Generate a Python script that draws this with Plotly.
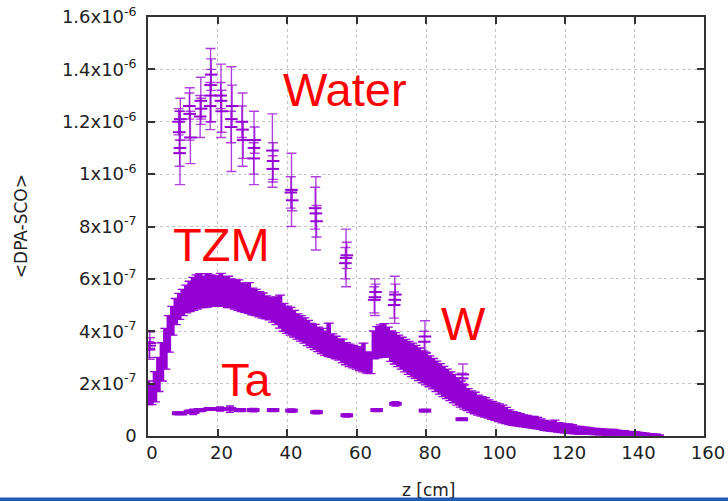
import plotly.graph_objects as go

# ---- data (values in units of 1e-7) ----
SCALE = 1e-7

# TZM target, 0-64 cm
tzm_z = list(range(0, 65))
tzm_v = [1.65, 1.60, 1.88, 2.35, 2.83, 3.33, 3.90, 4.40, 4.75, 4.95,
         5.10, 5.23, 5.33, 5.43, 5.50, 5.55, 5.50, 5.56, 5.55, 5.53,
         5.53, 5.58, 5.50, 5.50, 5.45, 5.40, 5.38, 5.30, 5.26, 5.27,
         5.14, 5.10, 5.03, 4.98, 4.91, 4.87, 4.80, 4.78, 4.75, 4.53,
         4.44, 4.38, 4.29, 4.18, 4.11, 4.03, 3.93, 3.84, 3.78, 3.69,
         3.63, 3.54, 3.67, 3.45, 3.38, 3.30, 3.25, 3.14, 3.08, 3.03,
         2.98, 2.93, 3.00, 2.80, 2.79]
tzm_e = [0.45, 0.40, 0.58, 0.65, 0.73, 0.78, 0.70, 0.55, 0.50, 0.50,
         0.50, 0.53, 0.58, 0.63, 0.65, 0.65, 0.60, 0.64, 0.60, 0.58,
         0.58, 0.63, 0.55, 0.60, 0.55, 0.55, 0.58, 0.55, 0.54, 0.59,
         0.51, 0.50, 0.48, 0.48, 0.44, 0.43, 0.45, 0.53, 0.63, 0.53,
         0.52, 0.53, 0.51, 0.48, 0.49, 0.48, 0.48, 0.46, 0.48, 0.47,
         0.48, 0.46, 0.64, 0.45, 0.43, 0.40, 0.45, 0.42, 0.43, 0.43,
         0.43, 0.43, 0.55, 0.40, 0.41]

# W target, 65-147 cm
w_z = list(range(65, 148))
w_v = [3.48, 3.58, 3.62, 3.66, 3.58, 3.43, 3.35, 3.25, 3.16, 3.07,
       2.98, 2.91, 2.83, 2.74, 2.64, 2.56, 2.47, 2.38, 2.28, 2.18,
       2.08, 1.99, 1.90, 1.81, 1.70, 1.60, 1.49, 1.39, 1.31, 1.26,
       1.18, 1.13, 1.09, 1.03, 0.98, 0.93, 0.89, 0.84, 0.78, 0.72,
       0.67, 0.64, 0.61, 0.58, 0.56, 0.53, 0.52, 0.49, 0.45, 0.41,
       0.38, 0.36, 0.39, 0.33, 0.31, 0.29, 0.28, 0.26, 0.23, 0.22,
       0.21, 0.20, 0.19, 0.17, 0.17, 0.16, 0.15, 0.14, 0.14, 0.14,
       0.12, 0.11, 0.11, 0.10, 0.09, 0.09, 0.08, 0.07, 0.06, 0.05,
       0.04, 0.03, 0.02]
w_e = [0.53, 0.60, 0.62, 0.63, 0.58, 0.58, 0.60, 0.60, 0.61, 0.62,
       0.63, 0.64, 0.63, 0.62, 0.61, 0.61, 0.59, 0.58, 0.58, 0.58,
       0.58, 0.56, 0.55, 0.54, 0.52, 0.50, 0.46, 0.42, 0.41, 0.41,
       0.38, 0.37, 0.37, 0.35, 0.34, 0.33, 0.34, 0.34, 0.31, 0.28,
       0.26, 0.25, 0.24, 0.23, 0.23, 0.22, 0.23, 0.22, 0.20, 0.19,
       0.18, 0.18, 0.22, 0.18, 0.18, 0.17, 0.18, 0.17, 0.15, 0.15,
       0.14, 0.14, 0.13, 0.12, 0.12, 0.12, 0.11, 0.11, 0.11, 0.11,
       0.10, 0.09, 0.09, 0.08, 0.08, 0.08, 0.07, 0.06, 0.05, 0.04,
       0.03, 0.03, 0.02]

# Water target
water_z = [0.3, 0.5, 0.6,
           8.8, 9.0, 9.1, 9.2, 9.3,
           11.9, 12.0, 12.2,
           15.0, 15.2, 15.3,
           17.9, 18.0, 18.1, 18.2,
           20.9, 21.0, 21.2,
           23.9, 24.0, 24.2,
           27.0, 27.2, 27.4,
           30.4, 30.5, 30.7,
           35.8, 35.9, 36.0,
           41.1, 41.3, 41.5,
           48.1, 48.3, 48.5,
           56.8, 57.0, 57.2,
           65.1, 65.3, 65.5,
           70.8, 71.0, 71.2,
           79.5, 79.7,
           90.4, 90.6]
water_v = [3.30, 3.45, 3.55,
           12.0, 11.6, 10.8, 11.0, 12.1,
           12.6, 12.3, 11.4,
           12.2, 12.8, 12.5,
           12.6, 13.4, 13.0, 13.8,
           13.0, 12.8, 12.4,
           11.8, 12.1, 12.6,
           12.0, 11.7, 11.3,
           10.6, 11.0, 11.3,
           10.9, 10.2, 10.5,
           9.3, 9.4, 9.0,
           8.7, 8.5, 8.2,
           6.6, 6.8, 6.9,
           5.2, 5.3, 5.5,
           5.0, 5.2, 5.4,
           3.6, 3.8,
           2.2, 2.35]
water_e = [0.30, 0.52, 0.20,
           0.50, 0.80, 0.50, 1.40, 0.80,
           0.50, 1.00, 1.00,
           0.80, 0.90, 0.40,
           0.90, 1.40, 1.00, 0.60,
           0.50, 1.40, 0.80,
           0.60, 2.00, 0.80,
           0.60, 1.40, 0.70,
           0.60, 1.40, 0.50,
           1.40, 0.50, 0.70,
           0.60, 1.40, 0.40,
           0.80, 1.40, 0.60,
           0.60, 1.10, 0.50,
           0.50, 0.70, 0.30,
           0.50, 0.90, 0.40,
           0.40, 0.60,
           0.20, 0.40]

# Ta target
ta_z = [8.7, 9.5, 12.1, 13.0, 15.0, 17.8, 20.7, 23.6, 26.5, 30.3,
        36.0, 41.3, 48.5, 57.2, 65.8, 71.2, 79.7, 90.3]
ta_v = [0.87, 0.86, 0.93, 0.92, 0.99, 1.03, 1.03, 1.03, 0.99, 0.99,
        0.99, 0.97, 0.91, 0.79, 0.99, 1.23, 0.97, 0.64]
ta_e = [0.04, 0.03, 0.05, 0.10, 0.05, 0.05, 0.08, 0.12, 0.05, 0.06,
        0.05, 0.06, 0.06, 0.06, 0.05, 0.08, 0.04, 0.04]

x_ticks = [0, 20, 40, 60, 80, 100, 120, 140, 160]
y_tick_vals = [0, 2e-7, 4e-7, 6e-7, 8e-7, 1e-6, 1.2e-6, 1.4e-6, 1.6e-6]
y_tick_text = ["0", "2x10<sup>-7</sup>", "4x10<sup>-7</sup>", "6x10<sup>-7</sup>",
               "8x10<sup>-7</sup>", "1x10<sup>-6</sup>", "1.2x10<sup>-6</sup>",
               "1.4x10<sup>-6</sup>", "1.6x10<sup>-6</sup>"]

labels = [("Water", 56.6, 13.25), ("TZM", 21.2, 7.3), ("W", 90.9, 4.3), ("Ta", 28.4, 2.15)]

PURPLE = "#9400D3"


def sc(vals):
    return [v * SCALE for v in vals]


fig = go.Figure()

# dense bands (TZM and W): a solid body of thick bars plus thin capped bars
for zs, vs, es in ((tzm_z, tzm_v, tzm_e), (w_z, w_v, w_e)):
    fig.add_trace(go.Scatter(
        x=zs, y=sc(vs), mode="markers",
        marker=dict(symbol="square", size=4, color=PURPLE),
        error_y=dict(type="data", array=sc(es), visible=True,
                     color=PURPLE, thickness=4.6, width=0),
        showlegend=False, hoverinfo="skip"))
    fig.add_trace(go.Scatter(
        x=zs, y=sc(vs), mode="none",
        error_y=dict(type="data", array=sc(es), visible=True,
                     color=PURPLE, thickness=1.3, width=5),
        showlegend=False, hoverinfo="skip"))

# Water clusters
fig.add_trace(go.Scatter(
    x=water_z, y=sc(water_v), mode="markers",
    marker=dict(symbol="line-ew", size=9, color=PURPLE,
                line=dict(color=PURPLE, width=2)),
    error_y=dict(type="data", array=sc(water_e), visible=True,
                 color="rgba(148,0,211,0.75)", thickness=1.4, width=5),
    showlegend=False, hoverinfo="skip"))

# Ta points
fig.add_trace(go.Scatter(
    x=ta_z, y=sc(ta_v), mode="markers",
    marker=dict(symbol="line-ew", size=9, color=PURPLE,
                line=dict(color=PURPLE, width=4)),
    error_y=dict(type="data", array=sc(ta_e), visible=True,
                 color=PURPLE, thickness=1.5, width=4),
    showlegend=False, hoverinfo="skip"))

for text, lx, ly in labels:
    fig.add_annotation(x=lx, y=ly * SCALE, xref="x", yref="y", text=text,
                       showarrow=False, xanchor="center", yanchor="middle",
                       font=dict(family="Liberation Sans", size=47, color="#FF0000"))

tick_font = dict(family="DejaVu Sans", size=18, color="#222222")
title_font = dict(family="DejaVu Sans", size=17, color="#222222")

# axis titles
fig.add_annotation(x=-0.229, y=0.5, xref="paper", yref="paper", text="&lt;DPA-SCO&gt;",
                   textangle=-90, showarrow=False, xanchor="center", yanchor="middle",
                   font=title_font)
fig.add_annotation(x=0.505, y=-0.13, xref="paper", yref="paper", text="z [cm]",
                   showarrow=False, xanchor="center", yanchor="middle",
                   font=title_font)
# bottom strip across the full page width
fig.add_annotation(x=0.3885, y=-0.1456, xref="paper", yref="paper", text="&#160;",
                   showarrow=False, xanchor="center", yanchor="top",
                   width=732, height=6, borderpad=0, bgcolor="#1F5CB0",
                   font=dict(size=4, color="#1F5CB0"))

axis_common = dict(
    showline=True, linecolor="#333333", linewidth=1.5, mirror="ticks",
    ticks="inside", ticklen=7, tickcolor="#333333", tickwidth=1.5,
    showgrid=True, gridcolor="#C4C4C4", griddash="dot", gridwidth=1,
    zeroline=False, tickfont=tick_font, automargin=False,
)

fig.update_layout(
    width=728, height=501,
    margin=dict(l=148, r=24, t=17, b=65),
    paper_bgcolor="white", plot_bgcolor="white",
    xaxis=dict(range=[0, 160], tickvals=x_ticks, ticklabelshift=4, **axis_common),
    yaxis=dict(range=[0, 1.6e-6], tickvals=y_tick_vals, ticktext=y_tick_text,
               ticklabelstandoff=6, **axis_common),
)

fig.write_html("out.html")
